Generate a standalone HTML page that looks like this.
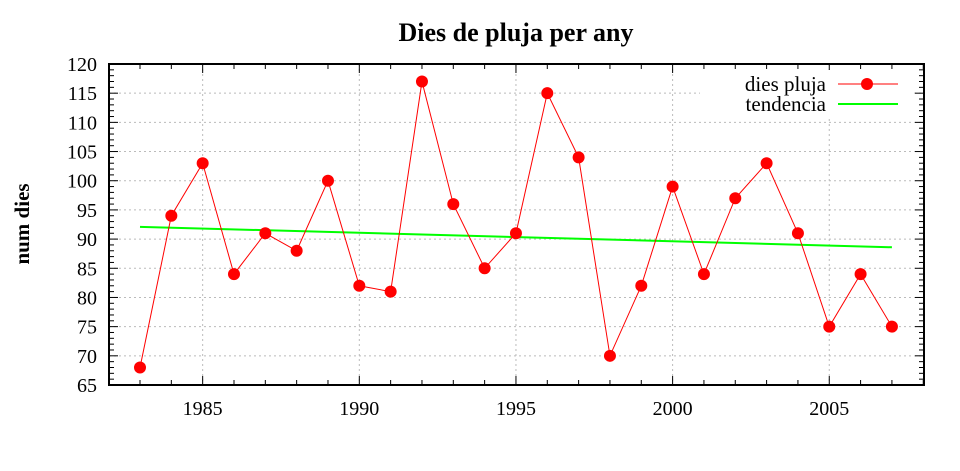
<!DOCTYPE html>
<html><head><meta charset="utf-8"><style>
body{margin:0;background:#fff}
svg{display:block;font-family:"Liberation Serif",serif}
</style></head><body>
<svg id="chart" width="960" height="471" viewBox="0 0 960 471">
<text x="516" y="41" text-anchor="middle" font-size="26" font-weight="bold">Dies de pluja per any</text>
<text transform="translate(29,224) rotate(-90)" text-anchor="middle" font-size="21" font-weight="bold">num dies</text>
<g id="grid"></g>
<g id="ticks"></g>
<rect x="700" y="70" width="212" height="48" fill="#fff"/>
<g id="series"></g>
<rect x="109" y="64" width="815" height="321" fill="none" stroke="#000" stroke-width="2"/>
<g>
<text x="826" y="91" text-anchor="end" font-size="21">dies pluja</text>
<line x1="838" y1="84" x2="898" y2="84" stroke="#f00" stroke-width="1"/>
<circle cx="867" cy="84" r="6" fill="#f00"/>
<text x="826" y="111" text-anchor="end" font-size="21">tendencia</text>
<line x1="838" y1="104" x2="898" y2="104" stroke="#0f0" stroke-width="2"/>
</g>
</svg>
<script>
const years=[1983,1984,1985,1986,1987,1988,1989,1990,1991,1992,1993,1994,1995,1996,1997,1998,1999,2000,2001,2002,2003,2004,2005,2006,2007];
const rainDays=[68,94,103,84,91,88,100,82,81,117,96,85,91,115,104,70,82,99,84,97,103,91,75,84,75];
const trendStart=[1983,92.1];
const trendEnd=[2007,88.6];
const xTickLabels=[1985,1990,1995,2000,2005];
const yTickLabels=[65,70,75,80,85,90,95,100,105,110,115,120];
const NS="http://www.w3.org/2000/svg";
const L=109,R=924,T=64,B=385;
const x=v=>140+(v-1983)*31.33;
const y=v=>B-(v-65)*(B-T)/55;
function mk(tag,attrs,parent){const e=document.createElementNS(NS,tag);for(const k in attrs)e.setAttribute(k,attrs[k]);parent.appendChild(e);return e;}
const grid=document.getElementById('grid'),ticks=document.getElementById('ticks'),series=document.getElementById('series');
yTickLabels.forEach(v=>{
 if(v>65&&v<120){const g=mk('line',{x1:L,x2:R,y1:y(v),y2:y(v),stroke:'#bbb','stroke-dasharray':'2,3'},grid);
 
 }
 const t=mk('text',{x:L-12,y:y(v)+7,'text-anchor':'end','font-size':'20'},ticks);t.textContent=v;
 
 
});
for(let v=66;v<120;v++){const len=(v%5===0)?9:5;mk('line',{x1:L,x2:L+len,y1:y(v),y2:y(v),stroke:'#000'},ticks);mk('line',{x1:R-len,x2:R,y1:y(v),y2:y(v),stroke:'#000'},ticks);}
xTickLabels.forEach(v=>{
 const g=mk('line',{x1:x(v),x2:x(v),y1:T,y2:B,stroke:'#bbb','stroke-dasharray':'2,3'},grid);
 
 
 const t=mk('text',{x:x(v),y:B+30,'text-anchor':'middle','font-size':'20'},ticks);t.textContent=v;
 
 
});
for(let v=1983;v<=2008;v++){const len=(v%5===0)?9:5;mk('line',{x1:x(v),x2:x(v),y1:B,y2:B-len,stroke:'#000'},ticks);mk('line',{x1:x(v),x2:x(v),y1:T,y2:T+len,stroke:'#000'},ticks);}
const tr=mk('line',{x1:x(trendStart[0]),y1:y(trendStart[1]),x2:x(trendEnd[0]),y2:y(trendEnd[1]),stroke:'#0f0','stroke-width':2},series);


const pl=mk('polyline',{points:years.map((yr,i)=>x(yr)+','+y(rainDays[i])).join(' '),fill:'none',stroke:'#f00','stroke-width':1},series);


years.forEach((yr,i)=>{const c=mk('circle',{cx:x(yr),cy:y(rainDays[i]),r:6,fill:'#f00'},series);
 
 });
</script>
</body></html>
